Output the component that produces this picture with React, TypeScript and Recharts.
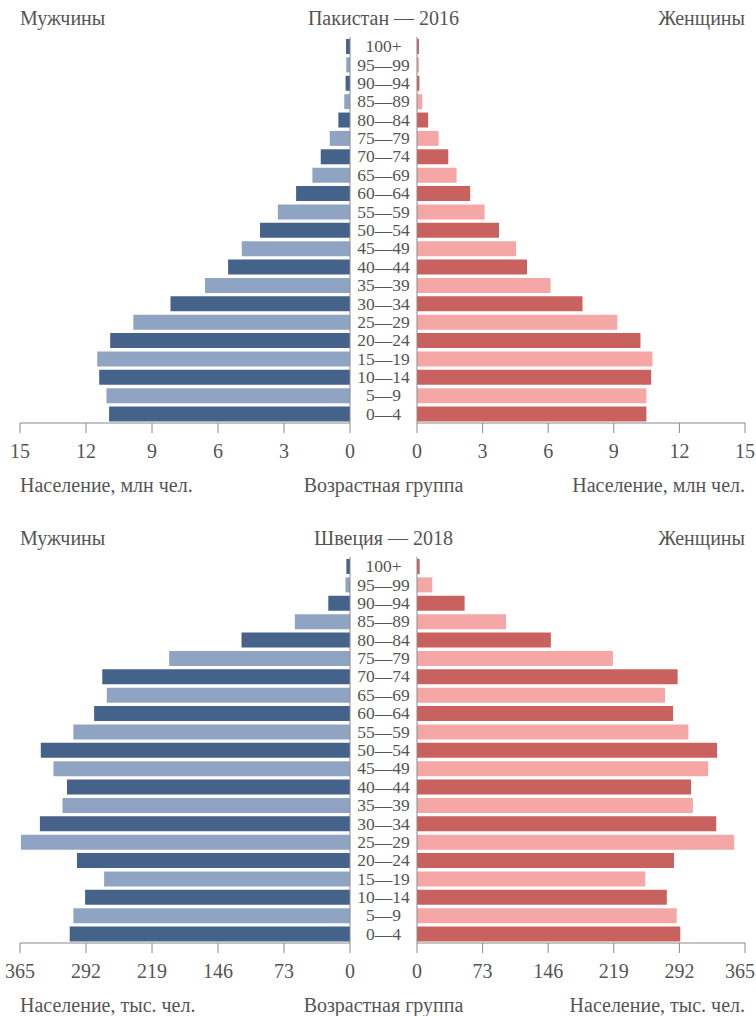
import React from 'react';
import { BarChart, Bar, XAxis, YAxis, Cell, ReferenceLine } from 'recharts';

const ageGroups = ['0—4', '5—9', '10—14', '15—19', '20—24', '25—29', '30—34', '35—39', '40—44', '45—49', '50—54', '55—59', '60—64', '65—69', '70—74', '75—79', '80—84', '85—89', '90—94', '95—99', '100+'];

const pakistanMale = [10.95, 11.07, 11.4, 11.49, 10.9, 9.85, 8.16, 6.59, 5.54, 4.92, 4.09, 3.28, 2.45, 1.71, 1.33, 0.92, 0.53, 0.26, 0.2, 0.17, 0.18];
const pakistanFemale = [10.49, 10.49, 10.71, 10.77, 10.22, 9.16, 7.57, 6.11, 5.03, 4.53, 3.75, 3.09, 2.43, 1.81, 1.43, 0.99, 0.51, 0.24, 0.11, 0.09, 0.09];
const pakistanTicks = [0, 3, 6, 9, 12, 15];

const swedenMale = [310, 306, 293, 272, 302, 364, 343, 318, 313, 328, 342, 306, 283, 269, 274, 200, 120, 61, 24, 5, 4];
const swedenFemale = [293, 289, 278, 254, 286, 353, 333, 307, 305, 324, 334, 302, 285, 276, 290, 218, 149, 99, 53, 17, 3];
const swedenTicks = [0, 73, 146, 219, 292, 365];

const FONT = "'Liberation Serif', 'Times New Roman', serif";
const FONT_SIZE = 20;
const AGE_FONT_SIZE = 17.5;
const TEXT = '#555555';
const AXIS = '#8a8a8a';
const MALE_COLORS = ['#45628a', '#8fa4c2'];
const FEMALE_COLORS = ['#c9625f', '#f5a7a5'];

const PLOT_TOP = 37;
const PLOT_H = 386;
const XAXIS_H = 40;
const CHART_H = PLOT_TOP + PLOT_H + XAXIS_H;
const RIGHT_W = 406;

function Label({ text, y, align, x }: { text: string; y: number; align: 'left' | 'center' | 'right'; x: number }) {
  const base: React.CSSProperties = {
    position: 'absolute',
    top: y - 12,
    lineHeight: '24px',
    fontSize: FONT_SIZE,
    fontFamily: FONT,
    color: TEXT,
    whiteSpace: 'nowrap',
  };
  if (align === 'left') return <div style={{ ...base, left: x }}>{text}</div>;
  if (align === 'right') return <div style={{ ...base, right: 756 - x }}>{text}</div>;
  return <div style={{ ...base, left: x - 200, width: 400, textAlign: 'center' }}>{text}</div>;
}

const AgeTick = (props: any) => {
  const { y, payload } = props;
  return (
    <text x={33.5} y={y} textAnchor="middle" dominantBaseline="central" fill={TEXT} fontSize={AGE_FONT_SIZE} fontFamily={FONT}>
      {payload.value}
    </text>
  );
};

const ValueTick = (props: any) => {
  const { x, y, payload, edge } = props;
  const atEdge = edge !== undefined && x > edge - 18;
  return (
    <text
      x={atEdge ? edge : x}
      y={y}
      dy="0.71em"
      textAnchor={atEdge ? 'end' : 'middle'}
      fill={TEXT}
      fontSize={FONT_SIZE}
      fontFamily={FONT}
    >
      {payload.value}
    </text>
  );
};

function Pyramid({ top, title, male, female, ticks, max, unit }: { top: number; title: string; male: number[]; female: number[]; ticks: number[]; max: number; unit: string }) {
  const data = ageGroups.map((age, i) => ({ age, male: male[i], female: female[i] }));
  return (
    <div style={{ position: 'absolute', left: 0, top, width: 756, height: 500 }}>
      <Label text="Мужчины" y={18} align="left" x={20} />
      <Label text={title} y={18} align="center" x={383.5} />
      <Label text="Женщины" y={18} align="right" x={745} />

      <div style={{ position: 'absolute', left: 0, top: 0 }}>
        <BarChart width={360} height={CHART_H} data={data} layout="vertical" margin={{ top: PLOT_TOP, right: 10, bottom: 0, left: 20 }}>
          <XAxis
            type="number"
            domain={[0, max]}
            ticks={ticks}
            interval={0}
            reversed
            height={XAXIS_H}
            tickSize={10}
            tickMargin={11}
            axisLine={{ stroke: AXIS }}
            tickLine={{ stroke: AXIS }}
            tick={<ValueTick />}
          />
          <YAxis type="category" dataKey="age" reversed hide />
          <Bar dataKey="male" barSize={15} isAnimationActive={false}>
            {data.map((_, i) => (
              <Cell key={i} fill={MALE_COLORS[i % 2]} />
            ))}
          </Bar>
          <ReferenceLine x={0} stroke={AXIS} />
        </BarChart>
      </div>

      <div style={{ position: 'absolute', left: 350, top: 0 }}>
        <BarChart width={RIGHT_W} height={CHART_H} data={data} layout="vertical" margin={{ top: PLOT_TOP, right: 11, bottom: 0, left: 0 }}>
          <XAxis
            type="number"
            domain={[0, max]}
            ticks={ticks}
            interval={0}
            height={XAXIS_H}
            tickSize={10}
            tickMargin={11}
            axisLine={{ stroke: AXIS }}
            tickLine={{ stroke: AXIS }}
            tick={<ValueTick edge={RIGHT_W - 1} />}
          />
          <YAxis
            type="category"
            dataKey="age"
            reversed
            width={67}
            interval={0}
            axisLine={{ stroke: AXIS }}
            tickLine={false}
            tick={<AgeTick />}
          />
          <Bar dataKey="female" barSize={15} isAnimationActive={false}>
            {data.map((_, i) => (
              <Cell key={i} fill={FEMALE_COLORS[i % 2]} />
            ))}
          </Bar>
        </BarChart>
      </div>

      <Label text={`Население, ${unit}`} y={485} align="left" x={20} />
      <Label text="Возрастная группа" y={485} align="center" x={383.5} />
      <Label text={`Население, ${unit}`} y={485} align="right" x={745} />
    </div>
  );
}

export default function App() {
  return (
    <div style={{ position: 'absolute', left: 0, top: 0, width: 756, height: 1016, background: '#ffffff', overflow: 'hidden' }}>
      <Pyramid top={0} title="Пакистан — 2016" male={pakistanMale} female={pakistanFemale} ticks={pakistanTicks} max={15} unit="млн чел." />
      <Pyramid top={520} title="Швеция — 2018" male={swedenMale} female={swedenFemale} ticks={swedenTicks} max={365} unit="тыс. чел." />
    </div>
  );
}
